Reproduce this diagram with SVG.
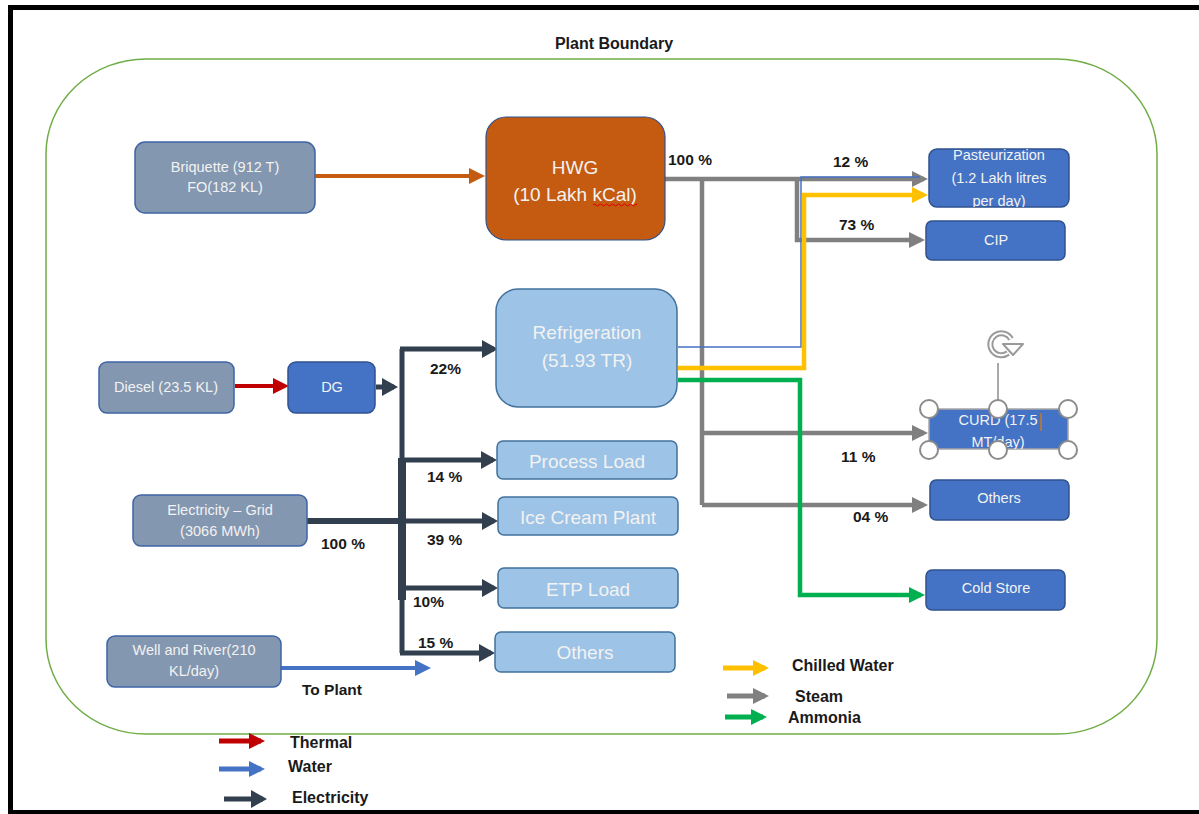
<svg xmlns="http://www.w3.org/2000/svg" width="1199" height="814" viewBox="0 0 1199 814">
<style>
text{font-family:"Liberation Sans",Arial,sans-serif}
.lbl{font-weight:bold;font-size:15.5px;fill:#1a1a1a}
.leg{font-weight:bold;font-size:16px;fill:#1a1a1a}
.nt{font-size:14.5px;fill:#F2F2F2;text-anchor:middle}
.bt{font-size:19px;fill:#F2F2F2;text-anchor:middle}
.gray{fill:#8497B0;stroke:#3E64A6;stroke-width:1.5}
.blue{fill:#4472C4;stroke:#2F528F;stroke-width:1.5}
.lb{fill:#9DC3E6;stroke:#41719C;stroke-width:1.5}
.steam{fill:none;stroke:#808080;stroke-width:4.5}
.elec{fill:none;stroke:#323F4F;stroke-width:5}
.hnd{fill:#fff;stroke:#8C8C8C;stroke-width:2}
</style>
<defs>
<marker id="mGray" markerUnits="userSpaceOnUse" markerWidth="16" markerHeight="16" refX="12" refY="8" orient="auto"><path d="M0,0 L16,8 L0,16 z" fill="#808080"/></marker>
<marker id="mElec" markerUnits="userSpaceOnUse" markerWidth="16" markerHeight="18" refX="12" refY="9" orient="auto"><path d="M0,0 L16,9 L0,18 z" fill="#323F4F"/></marker>
<marker id="mOrange" markerUnits="userSpaceOnUse" markerWidth="16" markerHeight="16" refX="12" refY="8" orient="auto"><path d="M0,0 L16,8 L0,16 z" fill="#C55A11"/></marker>
<marker id="mYellow" markerUnits="userSpaceOnUse" markerWidth="16" markerHeight="16" refX="12" refY="8" orient="auto"><path d="M0,0 L16,8 L0,16 z" fill="#FFC000"/></marker>
<marker id="mGreen" markerUnits="userSpaceOnUse" markerWidth="16" markerHeight="16" refX="12" refY="8" orient="auto"><path d="M0,0 L16,8 L0,16 z" fill="#00B050"/></marker>
<marker id="mBlue" markerUnits="userSpaceOnUse" markerWidth="16" markerHeight="16" refX="12" refY="8" orient="auto"><path d="M0,0 L16,8 L0,16 z" fill="#4472C4"/></marker>
<marker id="mRed" markerUnits="userSpaceOnUse" markerWidth="16" markerHeight="16" refX="12" refY="8" orient="auto"><path d="M0,0 L16,8 L0,16 z" fill="#C00000"/></marker>
<clipPath id="cPast"><rect x="929" y="149" width="140" height="58" rx="8"/></clipPath>
<clipPath id="cCurd"><rect x="929" y="409" width="139" height="40"/></clipPath>
</defs>
<rect width="1199" height="814" fill="#fff"/>
<g id="frame" fill="#000">
<rect x="8" y="5" width="1191" height="5"/>
<rect x="8" y="5" width="5" height="809"/>
<rect x="8" y="810" width="1191" height="4"/>
</g>
<g id="boundary">
<rect x="46" y="59" width="1111" height="675" rx="100" ry="95" fill="none" stroke="#70AD47" stroke-width="1.5"/>
<text x="614" y="49" text-anchor="middle" font-weight="bold" font-size="16px" fill="#1a1a1a">Plant Boundary</text>
</g>
<g id="connectors">
<path d="M315,176 H481" fill="none" stroke="#C55A11" stroke-width="4" marker-end="url(#mOrange)"/>
<path class="steam" d="M702,179 V505"/>
<path class="steam" d="M797,179 V240 H921" marker-end="url(#mGray)"/>
<path class="steam" d="M665,179 H924" marker-end="url(#mGray)"/>
<path class="steam" d="M702,433 H924" marker-end="url(#mGray)"/>
<path class="steam" d="M702,505 H924" marker-end="url(#mGray)"/>
<path d="M678,347 H801 V177 H920" fill="none" stroke="#4472C4" stroke-width="1.5"/>
<path d="M678,368 H804 V195 H924" fill="none" stroke="#FFC000" stroke-width="4.5" marker-end="url(#mYellow)"/>
<path d="M678,380 H800 V595 H921" fill="none" stroke="#00B050" stroke-width="4.5" marker-end="url(#mGreen)"/>
<path d="M235,386 H285" fill="none" stroke="#C00000" stroke-width="4" marker-end="url(#mRed)"/>
<path class="elec" d="M376,387 H394" marker-end="url(#mElec)"/>
<path class="elec" d="M402,349 V653"/>
<path d="M402,458 V600" fill="none" stroke="#323F4F" stroke-width="8"/>
<path class="elec" d="M400,349 H494" marker-end="url(#mElec)"/>
<path class="elec" d="M402,460 H493" marker-end="url(#mElec)"/>
<path class="elec" d="M402,521 H494" marker-end="url(#mElec)"/>
<path class="elec" d="M402,588 H494" marker-end="url(#mElec)"/>
<path class="elec" d="M400,653 H491" marker-end="url(#mElec)"/>
<path d="M307,521 H402" fill="none" stroke="#323F4F" stroke-width="6"/>
<path d="M281,668 H427" fill="none" stroke="#4472C4" stroke-width="4" marker-end="url(#mBlue)"/>
</g>
<g id="labels">
<text class="lbl" x="668" y="165">100 %</text>
<text class="lbl" x="833" y="167">12 %</text>
<text class="lbl" x="839" y="230">73 %</text>
<text class="lbl" x="841" y="462">11 %</text>
<text class="lbl" x="853" y="522">04 %</text>
<text class="lbl" x="430" y="374">22%</text>
<text class="lbl" x="427" y="482">14 %</text>
<text class="lbl" x="427" y="545">39 %</text>
<text class="lbl" x="413" y="607">10%</text>
<text class="lbl" x="418" y="648">15 %</text>
<text class="lbl" x="321" y="549">100 %</text>
<text class="lbl" x="302" y="695">To Plant</text>
</g>
<g id="briquette"><rect class="gray" x="135" y="142" width="180" height="71" rx="10"/><text class="nt" x="225" y="172">Briquette (912 T)</text><text class="nt" x="225" y="192">FO(182 KL)</text></g>
<g id="hwg"><rect x="486" y="117" width="179" height="123" rx="20" fill="#C55A11" stroke="#2F528F" stroke-width="1.2"/><text class="bt" x="575" y="174" font-size="20px">HWG</text><text class="bt" x="575" y="201">(10 Lakh kCal)</text><path d="M593,205 q1.5,-2 3,0 t3,0 t3,0 t3,0 t3,0 t3,0 t3,0 t3,0 t3,0 t3,0 t3,0 t3,0 t3,0 t3,0 t2,0" fill="none" stroke="#E00000" stroke-width="1"/></g>
<g id="refrigeration"><rect class="lb" x="496" y="289" width="181" height="118" rx="22"/><text class="bt" x="587" y="339">Refrigeration</text><text class="bt" x="587" y="367">(51.93 TR)</text></g>
<g id="process-load"><rect class="lb" x="497" y="441" width="180" height="38" rx="6"/><text class="bt" x="587" y="468">Process Load</text></g>
<g id="ice-cream"><rect class="lb" x="498" y="497" width="180" height="38" rx="6"/><text class="bt" x="588" y="524">Ice Cream Plant</text></g>
<g id="etp-load"><rect class="lb" x="498" y="568" width="180" height="40" rx="6"/><text class="bt" x="588" y="596">ETP Load</text></g>
<g id="others-mid"><rect class="lb" x="495" y="632" width="180" height="40" rx="6"/><text class="bt" x="585" y="659">Others</text></g>
<g id="diesel"><rect class="gray" x="99" y="362" width="135" height="51" rx="8"/><text class="nt" x="166" y="392">Diesel (23.5 KL)</text></g>
<g id="dg"><rect class="blue" x="288" y="362" width="87" height="51" rx="8"/><text class="nt" x="332" y="392">DG</text></g>
<g id="grid"><rect class="gray" x="133" y="495" width="174" height="51" rx="8"/><text class="nt" x="220" y="515">Electricity – Grid</text><text class="nt" x="220" y="536">(3066 MWh)</text></g>
<g id="well"><rect class="gray" x="107" y="636" width="174" height="51" rx="8"/><text class="nt" x="194" y="655">Well and River(210</text><text class="nt" x="194" y="676">KL/day)</text></g>
<g id="pasteurization"><rect class="blue" x="929" y="149" width="140" height="58" rx="8"/><g clip-path="url(#cPast)"><text class="nt" x="999" y="160">Pasteurization</text><text class="nt" x="999" y="183">(1.2 Lakh litres</text><text class="nt" x="999" y="206">per day)</text></g></g>
<g id="cip"><rect class="blue" x="926" y="221" width="139" height="39" rx="6"/><text class="nt" x="996" y="245">CIP</text></g>
<g id="curd"><rect x="929" y="409" width="139" height="40" fill="#4472C4" stroke="#A6A6A6" stroke-width="1.5"/><g clip-path="url(#cCurd)"><text class="nt" x="998" y="425">CURD (17.5</text><text class="nt" x="998" y="447">MT/day)</text></g>
<path d="M1041,413 V431" stroke="#C87A20" stroke-width="1.5"/>
<path d="M998,363 V400" stroke="#8C8C8C" stroke-width="1.5"/>
<path d="M1008,353 A11,11 0 1 1 1011,339" fill="none" stroke="#9A9A9A" stroke-width="6"/>
<path d="M1008,353 A11,11 0 1 1 1011,339" fill="none" stroke="#fff" stroke-width="2"/>
<path d="M1003,344 L1023,344 L1013,355 z" fill="#fff" stroke="#9A9A9A" stroke-width="2" stroke-linejoin="round"/>
<circle class="hnd" cx="929" cy="409" r="9"/><circle class="hnd" cx="998" cy="409" r="9"/><circle class="hnd" cx="1068" cy="409" r="9"/>
<circle class="hnd" cx="929" cy="450" r="9"/><circle class="hnd" cx="998" cy="450" r="9"/><circle class="hnd" cx="1068" cy="450" r="9"/></g>
<g id="others-right"><rect class="blue" x="930" y="480" width="139" height="40" rx="6"/><text class="nt" x="999" y="503">Others</text></g>
<g id="cold-store"><rect class="blue" x="926" y="570" width="139" height="40" rx="6"/><text class="nt" x="996" y="593">Cold Store</text></g>
<g id="legend-left">
<path d="M219,741 H261" stroke="#C00000" stroke-width="5" marker-end="url(#mRed)"/>
<text class="leg" x="290" y="748">Thermal</text>
<path d="M219,769 H261" stroke="#4472C4" stroke-width="5" marker-end="url(#mBlue)"/>
<text class="leg" x="288" y="772">Water</text>
<path d="M224,799 H263" stroke="#323F4F" stroke-width="5" marker-end="url(#mElec)"/>
<text class="leg" x="292" y="803">Electricity</text>
</g>
<g id="legend-right">
<path d="M723,668 H765" stroke="#FFC000" stroke-width="5" marker-end="url(#mYellow)"/>
<text class="leg" x="792" y="671">Chilled Water</text>
<path d="M727,696 H765" stroke="#808080" stroke-width="5" marker-end="url(#mGray)"/>
<text class="leg" x="795" y="702">Steam</text>
<path d="M725,717 H763" stroke="#00B050" stroke-width="5" marker-end="url(#mGreen)"/>
<text class="leg" x="788" y="723">Ammonia</text>
</g>
</svg>
